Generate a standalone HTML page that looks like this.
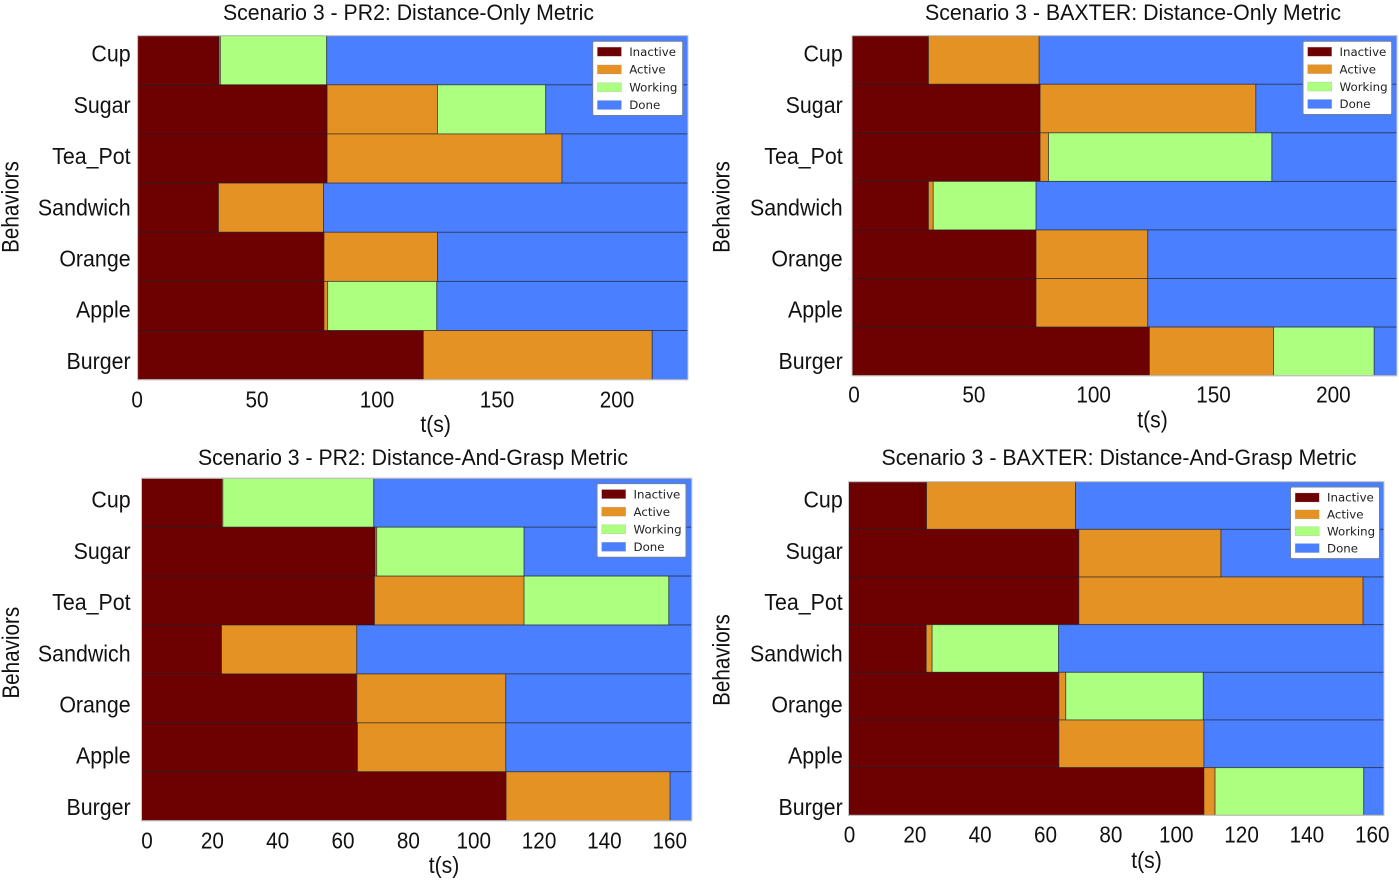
<!DOCTYPE html>
<html lang="en">
<head>
<meta charset="utf-8">
<title>Scenario 3 behavior timelines</title>
<style>
  html, body { margin: 0; padding: 0; background: #fff; }
  svg { display: block; }
  text { font-family: "Liberation Sans", sans-serif; fill: #111; }
  .legend-text { font-family: "DejaVu Sans", sans-serif; font-size: 11.8px; fill: #222; }
</style>
</head>
<body>
<svg id="figure" xmlns="http://www.w3.org/2000/svg" width="1399" height="882" viewBox="0 0 1399 882"></svg>
<script>
// ---- Data (seconds) ----
const categories = ["Cup", "Sugar", "Tea_Pot", "Sandwich", "Orange", "Apple", "Burger"];
const stateNames = ["Inactive", "Active", "Working", "Done"];
const ticksLong = [0, 50, 100, 150, 200];
const ticksShort = [0, 20, 40, 60, 80, 100, 120, 140, 160];

const pr2DistanceInactiveEnd = [33.9, 79, 79, 33.7, 77.7, 77.7, 119.1];
const pr2DistanceActiveEnd = [34.5, 125, 176.9, 77.5, 125, 79.2, 214.5];
const pr2DistanceWorkingEnd = [78.8, 170.1, 176.9, 77.5, 125, 124.7, 214.5];

const baxterDistanceInactiveEnd = [31.9, 78.5, 78.5, 31.9, 76.8, 76.8, 124.1];
const baxterDistanceActiveEnd = [78.1, 168.5, 82, 33.9, 123.4, 123.4, 175.9];
const baxterDistanceWorkingEnd = [78.1, 168.5, 175.2, 76.8, 123.4, 123.4, 217.9];

const pr2GraspInactiveEnd = [24.6, 71.5, 71.3, 24.5, 65.9, 66.1, 111.6];
const pr2GraspActiveEnd = [24.9, 72, 117.1, 65.9, 111.5, 111.5, 161.8];
const pr2GraspWorkingEnd = [71.1, 117.1, 161.4, 65.9, 111.5, 111.5, 161.8];

const baxterGraspInactiveEnd = [23.9, 70.5, 70.5, 23.8, 64.4, 64.4, 108.8];
const baxterGraspActiveEnd = [69.5, 114, 157.5, 25.6, 66.5, 108.8, 112.2];
const baxterGraspWorkingEnd = [69.5, 114, 157.5, 64.3, 108.6, 108.8, 157.7];

const stateColors = ["#6d0000", "#e59224", "#adff7f", "#4a80ff"];
const SVG_NS = "http://www.w3.org/2000/svg";
const figure = document.getElementById("figure");

const panels = [
  { key: "pr2-distance", title: "Scenario 3 - PR2: Distance-Only Metric",
    inactive: pr2DistanceInactiveEnd, active: pr2DistanceActiveEnd, working: pr2DistanceWorkingEnd,
    ticks: ticksLong, xMax: 229.4, left: 137.6, right: 688, top: 35.7, bottom: 379.7,
    titleX: 223, titleW: 371, titleY: 20, catRight: 130.6, catBase: 61.7, tickBase: 407.3, labelDx: -0.5,
    xLabelX: 435.6, xLabelY: 432, yLabelX: 18.5, yLabelY: 207,
    legendX: 592.7, legendY: 41.2, legendW: 90, legendH: 74.3 },
  { key: "baxter-distance", title: "Scenario 3 - BAXTER: Distance-Only Metric",
    inactive: baxterDistanceInactiveEnd, active: baxterDistanceActiveEnd, working: baxterDistanceWorkingEnd,
    ticks: ticksLong, xMax: 227.4, left: 852, right: 1397, top: 35.7, bottom: 375.7,
    titleX: 925, titleW: 416, titleY: 20, catRight: 842.7, catBase: 61.7, tickBase: 402.3, labelDx: 2,
    xLabelX: 1152.5, xLabelY: 427.7, yLabelX: 729.5, yLabelY: 207,
    legendX: 1303, legendY: 41.2, legendW: 88.7, legendH: 73.3 },
  { key: "pr2-grasp", title: "Scenario 3 - PR2: Distance-And-Grasp Metric",
    inactive: pr2GraspInactiveEnd, active: pr2GraspActiveEnd, working: pr2GraspWorkingEnd,
    ticks: ticksShort, xMax: 168.4, left: 141.5, right: 691.7, top: 478.3, bottom: 820.7,
    titleX: 198, titleW: 430, titleY: 465, catRight: 130.6, catBase: 507.7, tickBase: 848.3, labelDx: 5.5,
    xLabelX: 444, xLabelY: 873, yLabelX: 19, yLabelY: 652.7,
    legendX: 597, legendY: 483.6, legendW: 89, legendH: 73.7 },
  { key: "baxter-grasp", title: "Scenario 3 - BAXTER: Distance-And-Grasp Metric",
    inactive: baxterGraspInactiveEnd, active: baxterGraspActiveEnd, working: baxterGraspWorkingEnd,
    ticks: ticksShort, xMax: 163.9, left: 848.5, right: 1384, top: 481.7, bottom: 815.3,
    titleX: 881.5, titleW: 475, titleY: 465, catRight: 842.7, catBase: 507.7, tickBase: 842.7, labelDx: 1,
    xLabelX: 1146.5, xLabelY: 868, yLabelX: 729.5, yLabelY: 660,
    legendX: 1290.5, legendY: 487, legendW: 89, legendH: 71.6 }
];

function make(tag, parent, attrs) {
  const node = document.createElementNS(SVG_NS, tag);
  for (const k in attrs) node.setAttribute(k, attrs[k]);
  parent.appendChild(node);
  return node;
}

function condensed(parent, str, x, y, size, anchor, sx, sy, rot) {
  const node = make("text", parent, {
    transform: "translate(" + x + " " + y + ")" + (rot ? " rotate(" + rot + ")" : "") + " scale(" + sx + " " + sy + ")",
    "font-size": size,
    "text-anchor": anchor
  });
  node.textContent = str;
  return node;
}

panels.forEach(function (p) {
  const xScale = function (v) { return p.left + (v / p.xMax) * (p.right - p.left); };
  const rowH = (p.bottom - p.top) / categories.length;
  const rowY = function (i) { return p.top + i * rowH; };

  const chart = make("g", figure, {});
  
  

  const title = make("text", chart, {
    x: p.titleX, y: p.titleY, "font-size": 22,
    textLength: p.titleW, lengthAdjust: "spacingAndGlyphs"
  });
  title.textContent = p.title;
  
  

  categories.forEach(function (cat, i) {
    const starts = [0, p.inactive[i], p.active[i], p.working[i]];
    const ends = [p.inactive[i], p.active[i], p.working[i], p.xMax];
    stateNames.forEach(function (state, s) {
      if (ends[s] <= starts[s]) return;
      const bar = make("rect", chart, {
        x: xScale(starts[s]), y: rowY(i),
        width: xScale(ends[s]) - xScale(starts[s]), height: rowH,
        fill: stateColors[s], stroke: "#1c1c28", "stroke-opacity": 0.6, "stroke-width": 0.9
      });
      
      
    });

    const catLabel = condensed(chart, cat, p.catRight, p.catBase + i * 51.2, 23, "end", 0.93, 1);
    
    
  });

  const plotFrame = make("rect", chart, {
    x: p.left, y: p.top, width: p.right - p.left, height: p.bottom - p.top,
    fill: "none", stroke: "#c8c8c8", "stroke-width": 1
  });
  
  

  p.ticks.forEach(function (t) {
    const tickLabel = condensed(chart, String(t), xScale(t) + p.labelDx, p.tickBase, 23, "middle", 0.9, 1);
    
    
  });

  const xTitle = condensed(chart, "t(s)", p.xLabelX, p.xLabelY, 23, "middle", 0.92, 1);
  
  

  const yTitle = condensed(chart, "Behaviors", p.yLabelX, p.yLabelY, 24, "middle", 0.86, 1, -90);
  
  

  const legend = make("g", chart, {});
  
  

  const legendBox = make("rect", legend, {
    x: p.legendX, y: p.legendY, width: p.legendW, height: p.legendH, rx: 1.5,
    fill: "#fff", stroke: "#6f7f9f", "stroke-width": 1
  });
  
  

  const legendStep = (p.legendH - 21) / 3;
  stateNames.forEach(function (state, s) {
    const cy = p.legendY + 10.5 + s * legendStep;
    const swatch = make("rect", legend, {
      x: p.legendX + 4.7, y: cy - 4.5, width: 24, height: 9,
      fill: stateColors[s], stroke: "#999", "stroke-opacity": 0.4, "stroke-width": 0.6
    });
    
    

    const entry = make("text", legend, {
      x: p.legendX + 36.5, y: cy + 4.2, class: "legend-text"
    });
    entry.textContent = state;
    
    
  });
});
</script>
</body>
</html>
